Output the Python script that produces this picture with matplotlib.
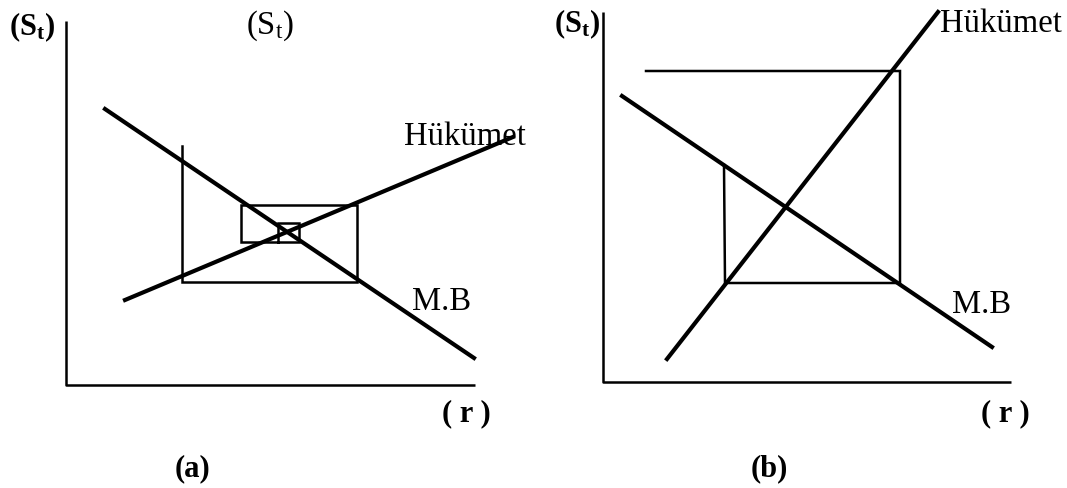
import numpy as np
import matplotlib
matplotlib.use("Agg")
import matplotlib.pyplot as plt

plt.rcParams['font.family'] = ['Liberation Serif', 'DejaVu Serif']
plt.rcParams['mathtext.default'] = 'regular'

# diyagram koordinatlari (piksel olcegi, y asagi dogru)
# panel (a)
eksen_a_x = [66, 66, 475]
eksen_a_y = [22, 386, 386]
mb_a_x = [105, 474]
mb_a_y = [110, 359]
huk_a_x = [125, 513]
huk_a_y = [301, 138]
orumcek_a_x = [182, 182, 357, 357, 241, 241, 299, 299, 278, 278]
orumcek_a_y = [147, 283, 283, 206, 206, 243, 243, 224, 224, 243]

# panel (b)
eksen_b_x = [603, 603, 1011]
eksen_b_y = [13, 383, 383]
mb_b_x = [622, 992]
mb_b_y = [97, 348]
huk_b_x = [667, 938]
huk_b_y = [360, 13]
orumcek_b_x = [646, 900, 900, 725, 724]
orumcek_b_y = [72, 72, 284, 284, 166]

fig = plt.figure(figsize=(10.67, 4.89), dpi=100)
ax = fig.add_axes([0, 0, 1, 1])
ax.set_xlim(0, 1067)
ax.set_ylim(489, 0)
ax.axis('off')

k = 'black'
# eksenler
ax.plot(eksen_a_x, eksen_a_y, color=k, lw=1.8, solid_capstyle='butt')
ax.plot(eksen_b_x, eksen_b_y, color=k, lw=1.8, solid_capstyle='butt')
# orumcek agi
ax.plot(orumcek_a_x, orumcek_a_y, color=k, lw=1.8, solid_joinstyle='miter')
ax.plot(orumcek_b_x, orumcek_b_y, color=k, lw=1.8, solid_joinstyle='miter')
# egriler
ax.plot(mb_a_x, mb_a_y, color=k, lw=3.0)
ax.plot(huk_a_x, huk_a_y, color=k, lw=3.0)
ax.plot(mb_b_x, mb_b_y, color=k, lw=3.0)
ax.plot(huk_b_x, huk_b_y, color=k, lw=3.0)

# yazilar
fs = 23.5
ax.text(32, 27, '(S$_t$)', fontsize=22, fontweight='bold', ha='center', va='center')
ax.text(270, 26, '(S$_t$)', fontsize=fs, ha='center', va='center')
ax.text(404, 137, 'Hükümet', fontsize=fs, ha='left', va='center')
ax.text(412, 302, 'M.B', fontsize=fs, ha='left', va='center')
ax.text(577, 24, '(S$_t$)', fontsize=22, fontweight='bold', ha='center', va='center')
ax.text(940, 24, 'Hükümet', fontsize=fs, ha='left', va='center')
ax.text(952, 305, 'M.B', fontsize=fs, ha='left', va='center')
ax.text(466, 414, '( r )', fontsize=22, fontweight='bold', ha='center', va='center')
ax.text(1005, 414, '( r )', fontsize=22, fontweight='bold', ha='center', va='center')
ax.text(193, 469, '(a)', fontsize=22, fontweight='bold', ha='center', va='center')
ax.text(769, 469, '(b)', fontsize=22, fontweight='bold', ha='center', va='center')

fig.savefig('out.png', dpi=100, facecolor='white')
